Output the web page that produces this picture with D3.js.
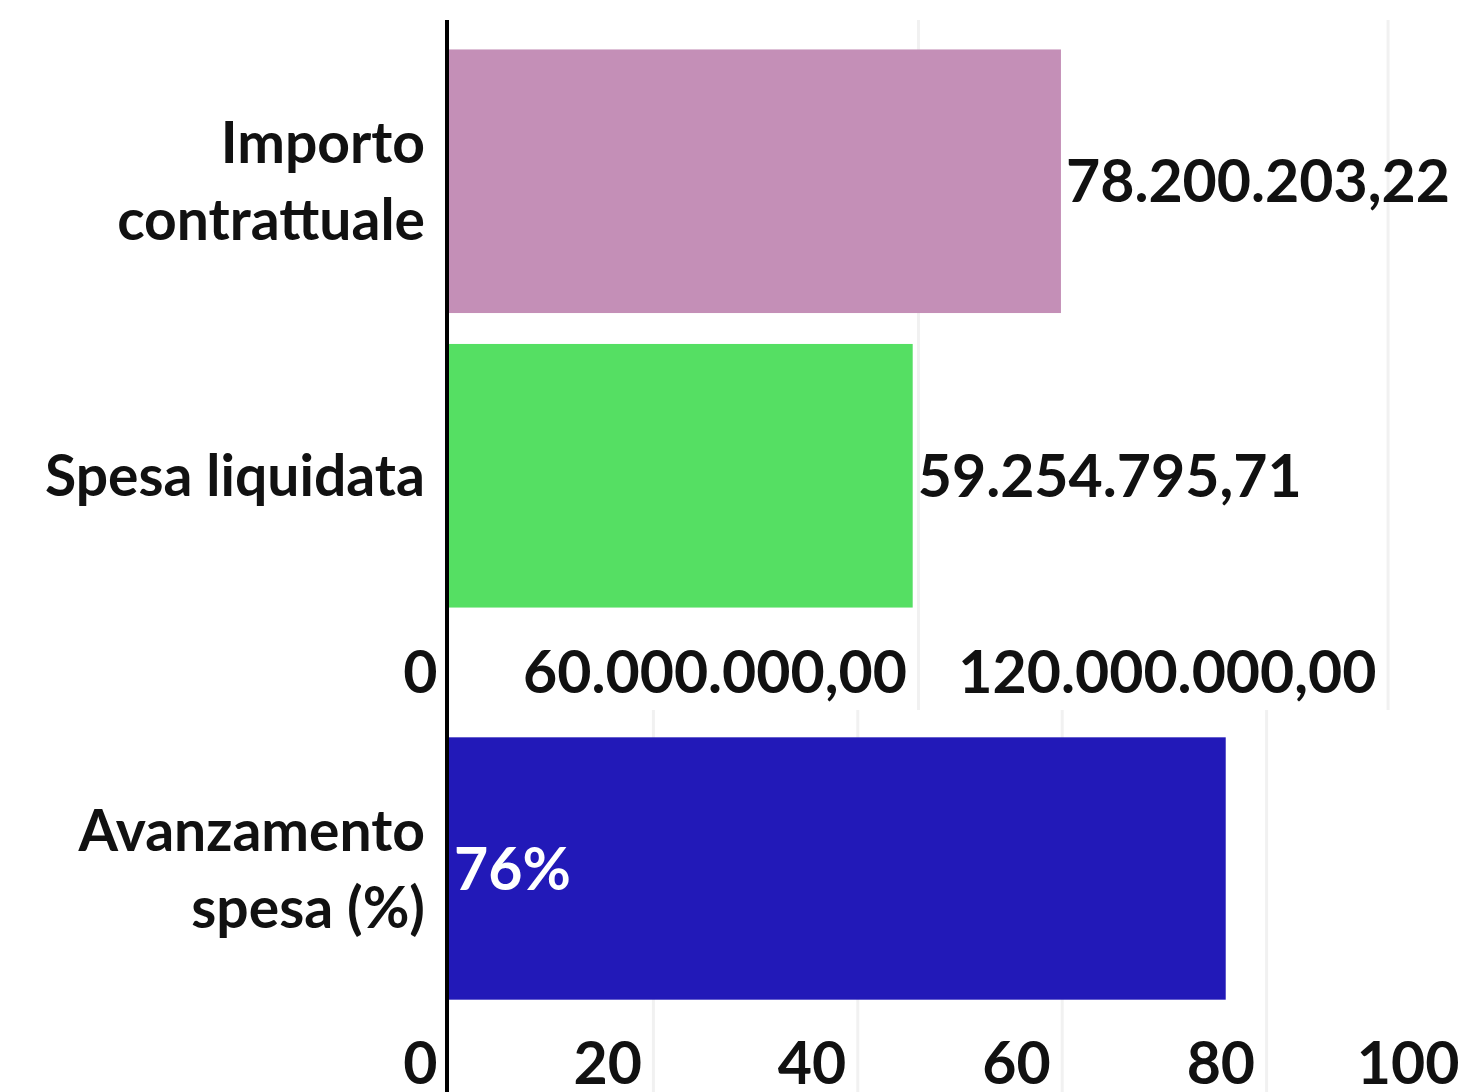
<!DOCTYPE html>
<html><head><meta charset="utf-8">
<script src="https://cdn.jsdelivr.net/npm/d3@7"></script>
<style>
html,body{margin:0;padding:0;background:#fff;}
svg{display:block;font-family:Lato,"Open Sans",sans-serif;font-weight:700;}
</style></head>
<body>
<svg id="chart" width="1464" height="1092"></svg>
<script>
// ---- data ----
const amountCategories = [["Importo", "contrattuale"], ["Spesa liquidata"]];
const amountValues = [78200203.22, 59254795.71];
const amountColors = ["#c48fb7", "#55df63"];
const amountTicks = [0, 60000000, 120000000];
const amountTickLabels = ["0", "60.000.000,00", "120.000.000,00"];
const amountLabels = ["78.200.203,22", "59.254.795,71"];

const pctCategories = [["Avanzamento", "spesa (%)"]];
const pctValues = [76];
const pctColors = ["#2219b8"];
const pctTicks = [0, 20, 40, 60, 80, 100];
const pctTickLabels = ["0", "20", "40", "60", "80", "100"];
const pctLabels = ["76%"];

const svg = d3.select("#chart");
const X0 = 449, X1 = 1471, AXIS_X = 447;
const FS_VAL = 59, FS_TICK = 59, FS_CAT = 57;

const xTop = d3.scaleLinear().domain([0, 130600000]).range([X0, X1]);
const xBot = d3.scaleLinear().domain([0, 100]).range([X0, X1]);

function panel(opts) {
  const {x, cats, values, colors, ticks, tickLabels, labels, y0, y1, gridBottom, tickY, labelInside} = opts;
  const y = d3.scaleBand().domain(d3.range(values.length)).range([y0, y1]).paddingInner(0.105).paddingOuter(0.1);
  const g = svg.append("g");
  // grid
  g.selectAll("line.grid").data(ticks.filter(t => t > 0)).join("line")
    .attr("x1", d => x(d)).attr("x2", d => x(d))
    .attr("y1", gridBottom[0]).attr("y2", gridBottom[1])
    .attr("stroke", "#f1f1f1").attr("stroke-width", 3);
  // bars
  g.selectAll("rect").data(values).join("rect")
    .attr("x", x(0)).attr("y", (d, i) => y(i))
    .attr("width", d => x(d) - x(0)).attr("height", y.bandwidth())
    .attr("fill", (d, i) => colors[i]);
  // value labels
  g.selectAll("text.val").data(values).join("text")
    .attr("class", "val")
    .attr("x", d => labelInside ? x(0) + 5 : x(d) + 5)
    .attr("y", (d, i) => y(i) + y.bandwidth() / 2)
    .attr("dy", "0.36em")
    .attr("font-size", FS_VAL)
    .attr("fill", labelInside ? "#fff" : "#111")
    .text((d, i) => labels[i]);
  // category labels
  cats.forEach((lines, i) => {
    const cy = y(i) + y.bandwidth() / 2;
    const lh = 77;
    const t = g.append("text").attr("text-anchor", "end").attr("font-size", FS_CAT).attr("fill", "#111");
    lines.forEach((ln, k) => {
      t.append("tspan").attr("x", AXIS_X - 22)
        .attr("y", cy + (k - (lines.length - 1) / 2) * lh)
        .attr("dy", "0.36em").text(ln);
    });
  });
  // axis
  const ax = d3.axisBottom(x).tickValues(ticks).tickSize(0)
    .tickFormat((d, i) => tickLabels[i]);
  const axg = g.append("g").attr("transform", `translate(0,${tickY})`).call(ax);
  axg.select(".domain").remove();
  axg.selectAll("text")
    .attr("text-anchor", "end").attr("x", -12).attr("y", 0).attr("dy", "0.36em")
    .attr("font-size", FS_TICK).attr("font-family", "Lato, sans-serif").attr("font-weight", 700)
    .attr("fill", "#111");
}

panel({x: xTop, cats: amountCategories, values: amountValues, colors: amountColors,
  ticks: amountTicks, tickLabels: amountTickLabels, labels: amountLabels,
  y0: 20, y1: 637, gridBottom: [20, 710], tickY: 672, labelInside: false});

panel({x: xBot, cats: pctCategories, values: pctValues, colors: pctColors,
  ticks: pctTicks, tickLabels: pctTickLabels, labels: pctLabels,
  y0: 708, y1: 1029, gridBottom: [710, 1092], tickY: 1063, labelInside: true});

// main vertical axis line
svg.append("line").attr("x1", AXIS_X).attr("x2", AXIS_X).attr("y1", 20).attr("y2", 1092)
  .attr("stroke", "#000").attr("stroke-width", 4);
</script>
</body></html>
